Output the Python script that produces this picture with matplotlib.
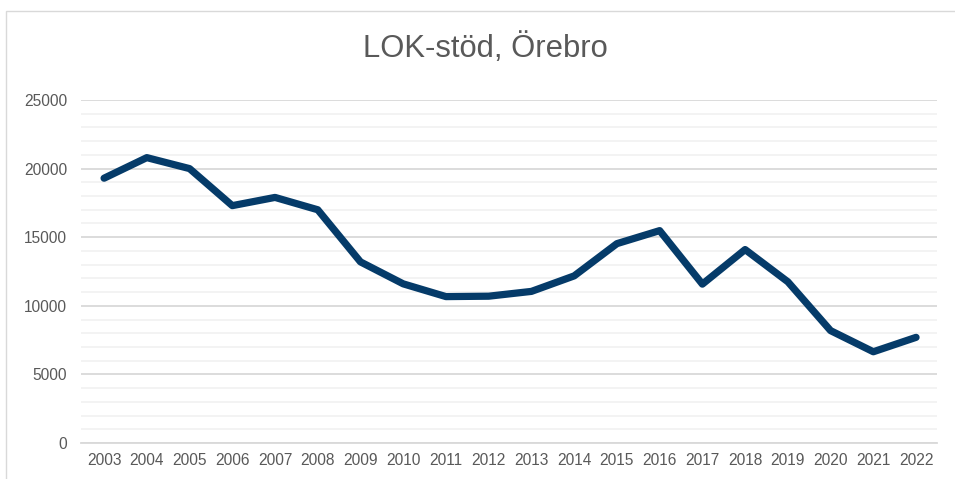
import matplotlib
matplotlib.use("Agg")
import matplotlib.pyplot as plt
from matplotlib.patches import Rectangle
from matplotlib.ticker import MultipleLocator

years = list(range(2003, 2023))
values = [19300, 20800, 20000, 17300, 17900, 17000, 13200, 11600, 10670, 10700,
          11050, 12180, 14530, 15480, 11580, 14100, 11750, 8190, 6650, 7700]
title = "LOK-stöd, Örebro"

plt.rcParams['font.family'] = ['Liberation Sans', 'DejaVu Sans']

W, H = 955, 479
fig = plt.figure(figsize=(W / 100, H / 100), dpi=100)
ax = fig.add_axes([81 / W, 1 - 443 / H, (937 - 81) / W, (443 - 100) / H])

# chart border
fig.patches.append(Rectangle((5.5 / W, -0.2), 1.2, 1.2 - 10.5 / H,
                             transform=fig.transFigure, fill=False,
                             edgecolor='#d9d9d9', linewidth=1.0))

ax.plot(years, values, color='#053b69', linewidth=5.2,
        solid_capstyle='round', solid_joinstyle='round', zorder=3)

ax.set_xlim(2002.46, 2022.49)
ax.set_ylim(0, 25000)
ax.yaxis.set_major_locator(MultipleLocator(5000))
ax.yaxis.set_minor_locator(MultipleLocator(1000))
ax.set_xticks(years)
ax.set_xticklabels([str(y) for y in years])

ax.grid(axis='y', which='major', color='#d9d9d9', linewidth=1.3, zorder=1)
ax.grid(axis='y', which='minor', color='#f2f2f2', linewidth=1.3, zorder=0)
ax.set_axisbelow(True)

for s in ['top', 'right', 'left']:
    ax.spines[s].set_visible(False)
ax.spines['bottom'].set_color('#d9d9d9')
ax.spines['bottom'].set_linewidth(1.3)

ax.tick_params(axis='both', which='both', length=0, labelsize=11.2, labelcolor='#595959')
ax.tick_params(axis='y', pad=10)
ax.tick_params(axis='x', pad=7)

fig.text(485 / W, 1 - 57 / H, title, ha='center', va='baseline',
         fontsize=22.3, color='#595959')

fig.savefig('out.png', dpi=100)
